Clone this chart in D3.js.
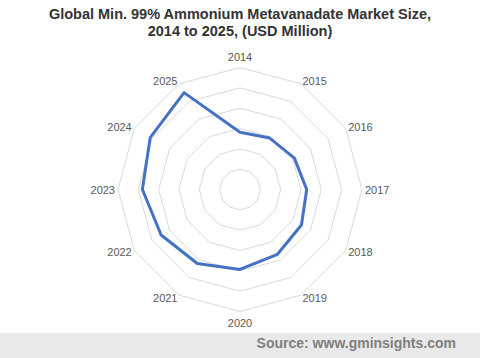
<!DOCTYPE html>
<html><head><meta charset="utf-8">
<script src="https://cdn.jsdelivr.net/npm/d3@7"></script>
<style>body{margin:0;background:#fff}svg{display:block}</style>
</head><body>
<script>
const years = ["2014","2015","2016","2017","2018","2019","2020","2021","2022","2023","2024","2025"];
const marketSize = [2.82, 2.92, 3.09, 3.28, 3.49, 3.68, 3.93, 4.2, 4.48, 4.8, 5.1, 5.5];
const gridLevels = [1, 2, 3, 4, 5, 6];
const titleLines = ["Global Min. 99% Ammonium Metavanadate Market Size,", "2014 to 2025, (USD Million)"];
const sourceText = "Source: www.gminsights.com";

const W = 480, H = 358, cx = 240, cy = 189.5, R = 122;
const svg = d3.select("body").append("svg").attr("width", W).attr("height", H);

const r = d3.scaleLinear().domain([0, 6]).range([0, R]);
const ang = d3.scaleBand().domain(years).range([0, 2 * Math.PI]);

const g = svg.append("g").attr("transform", `translate(${cx},${cy})`);

const radial = d3.lineRadial().angle(d => ang(d.k)).radius(d => r(d.v)).curve(d3.curveLinearClosed);

// grid
g.selectAll("path.grid").data(gridLevels).join("path")
  .attr("class", "grid")
  .attr("d", lv => radial(years.map(k => ({k, v: lv}))))
  .attr("fill", "none").attr("stroke", "#d9d9d9").attr("stroke-width", 1);

// series
g.append("path")
  .attr("d", radial(years.map((k, i) => ({k, v: marketSize[i]}))))
  .attr("fill", "none").attr("stroke", "#4472c4").attr("stroke-width", 3)
  .attr("stroke-linejoin", "round");

// labels
const rl = 125;
g.selectAll("text.lab").data(years).join("text")
  .attr("class", "lab")
  .each(function(k) {
    const a = ang(k);
    const s = Math.sin(a), c = Math.cos(a);
    let x = rl * s, y = -rl * c + 4, anchor;
    if (Math.abs(s) < 0.01) { anchor = "middle"; y += c > 0 ? -8 : 8; }
    else anchor = s > 0 ? "start" : "end";
    d3.select(this).attr("x", x).attr("y", y).attr("text-anchor", anchor);
  })
  .attr("font-family", "Liberation Sans, Arial, sans-serif")
  .attr("font-size", 11).attr("fill", "#595959")
  .text(k => k);

// title
svg.selectAll("text.title").data(titleLines).join("text")
  .attr("class", "title")
  .attr("x", 240).attr("y", (d, i) => 19 + i * 17)
  .attr("text-anchor", "middle")
  .attr("font-family", "Liberation Sans, Arial, sans-serif")
  .attr("font-weight", "bold").attr("font-size", 14.5).attr("fill", "#333333")
  .text(d => d);

// footer
svg.append("rect").attr("x", 0).attr("y", 333).attr("width", W).attr("height", H - 333).attr("fill", "#e9e9e9");
svg.append("text").attr("x", 456).attr("y", 348)
  .attr("text-anchor", "end")
  .attr("font-family", "Liberation Sans, Arial, sans-serif")
  .attr("font-weight", "bold").attr("font-size", 14).attr("fill", "#7f7f7f")
  .text(sourceText);
</script>
</body></html>
